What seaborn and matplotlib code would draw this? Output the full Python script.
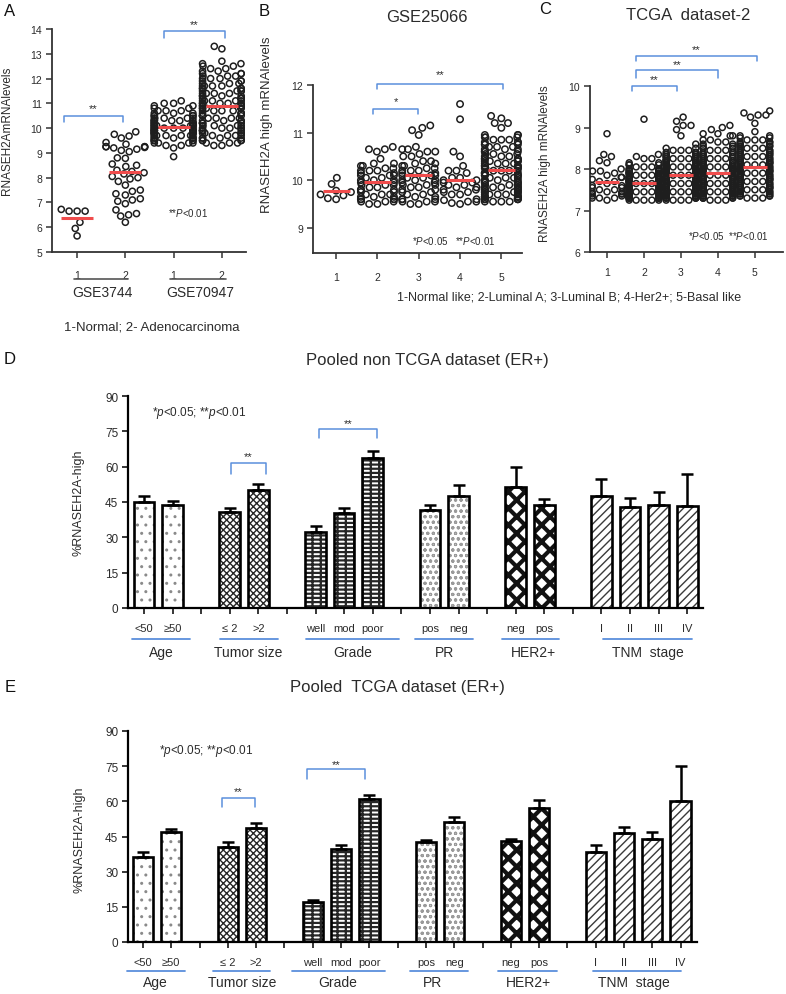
import numpy as np
import pandas as pd
import matplotlib
matplotlib.use("Agg")
import matplotlib.pyplot as plt
from matplotlib.lines import Line2D
from matplotlib.patches import Rectangle
import seaborn as sns

# ----------------------------- data -----------------------------
# Panel A (GSE3744 / GSE70947): 1-Normal, 2-Adenocarcinoma
A_order = ["GSE3744-1", "GSE3744-2", "GSE70947-1", "GSE70947-2"]
A_ticklabels = ["1", "2", "1", "2"]
A_gse3744_normal = [6.65, 6.65, 6.65, 6.72, 6.2, 5.95, 5.65]
A_gse3744_adeno = [9.85, 9.75, 9.68, 9.6, 9.42, 9.35, 9.25, 9.25, 9.25, 9.25, 9.22, 9.2,
                   9.15, 9.1, 9.05, 8.8, 8.78, 8.55, 8.5, 8.45, 8.3, 8.25, 8.2, 8.15,
                   8.05, 8.0, 7.95, 7.85, 7.7, 7.5, 7.45, 7.35, 7.3, 7.15, 7.1, 7.05,
                   6.95, 6.7, 6.55, 6.5, 6.45, 6.2]
A_gse70947_normal_levels = [8.85, 9.2, 9.3, 9.4, 9.5, 9.6, 9.7, 9.8, 9.9, 10.0, 10.1,
                            10.2, 10.3, 10.4, 10.5, 10.6, 10.7, 10.8, 10.9, 11.0, 11.1]
A_gse70947_normal_counts = [1, 1, 2, 4, 5, 6, 7, 8, 8, 8, 8, 7, 6, 5, 4, 3, 3, 2, 2, 2, 1]
A_gse70947_adeno_levels = [9.3, 9.4, 9.5, 9.6, 9.7, 9.8, 9.9, 10.0, 10.1, 10.2, 10.3, 10.4,
                           10.5, 10.6, 10.7, 10.8, 10.9, 11.0, 11.1, 11.2, 11.3, 11.4, 11.5,
                           11.6, 11.7, 11.8, 11.9, 12.0, 12.1, 12.2, 12.3, 12.4, 12.5, 12.6,
                           12.7, 13.2, 13.3]
A_gse70947_adeno_counts = [2, 3, 4, 4, 4, 4, 4, 5, 4, 4, 4, 4, 4, 4, 4, 5, 5, 5, 5, 4, 4, 4,
                           4, 4, 4, 3, 3, 3, 3, 3, 2, 2, 2, 2, 1, 1, 1]

# Panel B (GSE25066): subtypes 1..5
B_order = ["1", "2", "3", "4", "5"]
B_normal_like = [10.05, 9.92, 9.78, 9.75, 9.7, 9.68, 9.62, 9.6]
B_luminal_a_levels = [9.5, 9.55, 9.6, 9.65, 9.7, 9.75, 9.8, 9.85, 9.9, 9.95, 10.0, 10.05,
                      10.1, 10.15, 10.2, 10.25, 10.3, 10.35, 10.45, 10.6, 10.65, 10.7]
B_luminal_a_counts = [2, 3, 4, 3, 3, 2, 3, 2, 3, 2, 3, 2, 3, 2, 3, 2, 2, 2, 1, 1, 2, 1]
B_luminal_b_levels = [9.5, 9.55, 9.6, 9.65, 9.7, 9.75, 9.8, 9.85, 9.9, 9.95, 10.0, 10.05,
                      10.1, 10.15, 10.2, 10.25, 10.3, 10.35, 10.4, 10.5, 10.55, 10.6, 10.65,
                      10.7, 10.95, 11.05, 11.1, 11.15]
B_luminal_b_counts = [2, 3, 3, 2, 2, 2, 2, 2, 3, 2, 3, 2, 3, 2, 3, 2, 2, 2, 2, 2, 1, 2, 2,
                      1, 1, 1, 1, 1]
B_her2 = [11.6, 11.28, 10.6, 10.5, 10.3, 10.2, 10.2, 10.15, 10.05, 10.05, 10.0, 10.0, 9.95,
          9.95, 9.9, 9.9, 9.85, 9.85, 9.8, 9.8, 9.75, 9.75, 9.7, 9.7, 9.6, 9.55, 9.55, 9.5,
          9.52, 9.58]
B_basal_levels = [9.55, 9.6, 9.65, 9.7, 9.75, 9.8, 9.85, 9.9, 9.95, 10.0, 10.05, 10.1, 10.15,
                  10.2, 10.25, 10.3, 10.35, 10.4, 10.45, 10.5, 10.55, 10.6, 10.65, 10.7, 10.75,
                  10.8, 10.85, 10.9, 10.95, 11.1, 11.2, 11.3, 11.35]
B_basal_counts = [4, 6, 6, 5, 5, 5, 5, 4, 4, 4, 4, 4, 4, 4, 4, 4, 4, 4, 4, 3, 3, 3, 3, 3, 3,
                  3, 3, 3, 3, 1, 2, 1, 1]

# Panel C (TCGA dataset-2): subtypes 1..5
C_order = ["1", "2", "3", "4", "5"]
C_normal_like = [8.85, 8.35, 8.3, 8.2, 8.15, 8.0, 7.95, 7.95, 7.9, 7.85, 7.8, 7.8, 7.75, 7.7,
                 7.7, 7.65, 7.6, 7.6, 7.55, 7.55, 7.5, 7.5, 7.45, 7.45, 7.45, 7.4, 7.4, 7.4,
                 7.35, 7.35, 7.3, 7.3, 7.3, 7.25]
C_luminal_a_levels = [7.25, 7.3, 7.35, 7.4, 7.45, 7.5, 7.55, 7.6, 7.65, 7.7, 7.75, 7.8, 7.85,
                      7.9, 7.95, 8.0, 8.05, 8.1, 8.15, 8.25, 8.3, 8.35, 9.2]
C_luminal_a_counts = [5, 8, 8, 8, 8, 8, 8, 8, 7, 7, 6, 6, 5, 5, 4, 4, 3, 3, 2, 2, 1, 1, 1]
C_luminal_b_levels = [7.25, 7.3, 7.35, 7.4, 7.45, 7.5, 7.55, 7.6, 7.65, 7.7, 7.75, 7.8, 7.85,
                      7.9, 7.95, 8.0, 8.05, 8.1, 8.15, 8.2, 8.25, 8.3, 8.35, 8.4, 8.45, 8.5,
                      8.6, 8.8, 8.95, 9.05, 9.15, 9.25]
C_luminal_b_counts = [4, 6, 7, 7, 7, 7, 7, 7, 7, 7, 7, 7, 7, 7, 7, 6, 6, 6, 5, 5, 5, 4, 4, 3,
                      3, 2, 1, 1, 1, 2, 1, 1]
C_her2_levels = [7.25, 7.3, 7.35, 7.4, 7.45, 7.5, 7.55, 7.6, 7.65, 7.7, 7.75, 7.8, 7.85, 7.9,
                 7.95, 8.0, 8.05, 8.1, 8.15, 8.2, 8.25, 8.3, 8.35, 8.4, 8.45, 8.5, 8.55, 8.6,
                 8.65, 8.7, 8.8, 8.85, 8.95, 9.0, 9.05]
C_her2_counts = [3, 5, 6, 6, 6, 6, 6, 6, 6, 6, 6, 6, 5, 5, 5, 5, 5, 4, 4, 4, 4, 4, 3, 3, 3,
                 3, 2, 2, 2, 2, 2, 2, 1, 1, 1]
C_basal_levels = [7.3, 7.35, 7.4, 7.45, 7.5, 7.55, 7.6, 7.65, 7.7, 7.75, 7.8, 7.85, 7.9, 7.95,
                  8.0, 8.05, 8.1, 8.15, 8.2, 8.25, 8.3, 8.35, 8.4, 8.45, 8.5, 8.55, 8.6, 8.65,
                  8.7, 8.75, 8.8, 8.9, 9.1, 9.25, 9.3, 9.35, 9.4]
C_basal_counts = [3, 4, 4, 5, 5, 5, 5, 5, 5, 5, 5, 5, 5, 5, 5, 5, 5, 5, 5, 5, 5, 4, 4, 4, 4,
                  4, 3, 3, 3, 2, 2, 1, 1, 1, 2, 1, 1]

# Panels D / E: % RNASEH2A-high by clinical group
BAR_KEYS = ["<50", "≥50", "≤2", ">2", "well", "mod", "poor", "PR pos", "PR neg",
            "HER2 neg", "HER2 pos", "I", "II", "III", "IV"]
BAR_GROUPS = ["Age", "Age", "Tumor size", "Tumor size", "Grade", "Grade", "Grade", "PR", "PR",
              "HER2+", "HER2+", "TNM stage", "TNM stage", "TNM stage", "TNM stage"]
BAR_TICKLABELS = ["<50", "≥50", "≤ 2", ">2", "well", "mod", "poor", "pos", "neg", "neg",
                  "pos", "I", "II", "III", "IV"]
BAR_ORDER = ["<50", "≥50", "gap1", "≤2", ">2", "gap2", "well", "mod", "poor", "gap3",
             "PR pos", "PR neg", "gap4", "HER2 neg", "HER2 pos", "gap5", "I", "II", "III", "IV"]
D_pct = [45.1, 43.7, 40.6, 50.2, 32.1, 40.3, 63.7, 41.7, 47.4, 51.5, 43.9, 47.4, 43.0, 43.7, 43.4]
D_err = [2.3, 1.6, 1.7, 2.3, 2.6, 2.0, 2.8, 2.2, 4.9, 8.2, 2.4, 7.4, 3.6, 5.4, 13.5]
E_pct = [36.4, 46.8, 40.7, 48.6, 16.9, 39.7, 61.0, 42.5, 51.3, 43.1, 57.0, 38.3, 46.6, 43.8, 60.0]
E_err = [1.9, 1.4, 1.8, 2.0, 1.1, 1.8, 1.8, 1.0, 2.1, 0.8, 3.7, 3.1, 2.3, 3.0, 15.2]

# ----------------------------- style -----------------------------
sns.set_theme(style="ticks")
plt.rcParams["font.family"] = ["Liberation Sans", "DejaVu Sans"]
plt.rcParams["mathtext.fontset"] = "custom"
plt.rcParams["mathtext.it"] = "Liberation Sans:italic"
plt.rcParams["mathtext.rm"] = "Liberation Sans"

W, H = 786, 995
fig = plt.figure(figsize=(W / 100, H / 100), dpi=100)
TXT = "#2b2b2b"
BLUE = "#5b8fdc"
RED = "#f04c4c"
DOT = "#1e1e1e"


def rect(l, r, t, b):
    return [l / W, 1 - b / H, (r - l) / W, (b - t) / H]


def px_text(x, y, s, **kw):
    kw.setdefault("color", TXT)
    kw.setdefault("ha", "center")
    kw.setdefault("va", "center")
    fig.text(x / W, 1 - y / H, s, **kw)


def px_line(x1, x2, y, color=BLUE, lw=1.3):
    fig.add_artist(Line2D([x1 / W, x2 / W], [1 - y / H, 1 - y / H],
                          transform=fig.transFigure, color=color, lw=lw))


def bracket(ax, x1, x2, y, ylow, label, ty, fs=8):
    ax.plot([x1, x1, x2, x2], [ylow, y, y, ylow], color=BLUE, lw=1.1, clip_on=False)
    ax.text((x1 + x2) / 2, ty, label, ha="center", va="center", fontsize=fs,
            color=TXT, clip_on=False)


def expand(levels, counts):
    return np.repeat(np.asarray(levels, float), counts)


def style_axes(ax, lw=1.3, color="#333333", labelsize=7.5, pad=3):
    sns.despine(ax=ax)
    for s in ("left", "bottom"):
        ax.spines[s].set_linewidth(lw)
        ax.spines[s].set_color(color)
    ax.tick_params(direction="out", length=4, width=1.1, color=color,
                   labelsize=labelsize, labelcolor=TXT, pad=pad)
    ax.grid(False)
    ax.set_facecolor("none")


def swarm_panel(ax, order, groups, size):
    frames = [pd.DataFrame({"group": g, "value": np.asarray(v, float)})
              for g, v in zip(order, groups)]
    df = pd.concat(frames, ignore_index=True)
    sns.swarmplot(data=df, x="group", y="value", order=order, ax=ax, size=size,
                  color="white", edgecolor=DOT, linewidth=1.1, warn_thresh=1.0)
    for coll in ax.collections:
        coll.set_facecolor("none")
        coll.set_edgecolor(DOT)
        coll.set_linewidth(1.1)
    means = df.groupby("group")["value"].mean().reindex(order).to_numpy()
    pos = np.arange(len(order))
    ax.hlines(means, pos - 0.33, pos + 0.33, color=RED, lw=2.2, zorder=6)
    ax.set_xlabel("")


HATCH = {
    "Age": ("white", "#8a8a8a", "..", 1.0),
    "Tumor size": ("white", "#262626", "xxxxx", 1.0),
    "Grade": ("white", "#262626", "----||", 1.6),
    "PR": ("white", "#9a9a9a", "ooo", 0.8),
    "HER2+": ("white", "#111111", "xx", 3.0),
    "TNM stage": ("white", "#3a3a3a", "////", 1.0),
}


def bar_panel(ax, pct, err):
    df = pd.DataFrame({"cat": BAR_KEYS, "pct": pct, "group": BAR_GROUPS})
    sns.barplot(data=df, x="cat", y="pct", order=BAR_ORDER, ax=ax, color="white",
                edgecolor="black", linewidth=1.9, width=0.72, errorbar=None, saturation=1)
    group_of = dict(zip(BAR_KEYS, BAR_GROUPS))
    for p in list(ax.patches):
        if not np.isfinite(p.get_height()) or p.get_height() == 0:
            continue
        key = BAR_ORDER[int(round(p.get_x() + p.get_width() / 2))]
        face, hc, hatch, hlw = HATCH[group_of[key]]
        overlay = Rectangle((p.get_x(), p.get_y()), p.get_width(), p.get_height(),
                            facecolor=face, edgecolor=hc, lw=0, hatch=hatch, zorder=1.5)
        if hasattr(overlay, "set_hatch_linewidth"):
            overlay.set_hatch_linewidth(hlw)
        ax.add_patch(overlay)
        p.set_facecolor("none")
        p.set_zorder(3)
    xpos = [BAR_ORDER.index(k) for k in BAR_KEYS]
    ax.errorbar(xpos, pct, yerr=[np.zeros(len(err)), err], fmt="none", ecolor="black",
                elinewidth=1.8, capsize=4, capthick=1.8, zorder=2.5)
    ax.set_ylim(0, 90)
    ax.set_yticks([0, 15, 30, 45, 60, 75, 90])
    ax.set_xticks(np.arange(len(BAR_ORDER)))
    labels = []
    for k in BAR_ORDER:
        labels.append(BAR_TICKLABELS[BAR_KEYS.index(k)] if k in BAR_KEYS else "")
    ax.set_xticklabels(labels)
    ax.set_xlabel("")
    ax.set_ylabel("%RNASEH2A-high", fontsize=9, color=TXT)
    style_axes(ax, lw=1.6, color="black", labelsize=8, pad=3)
    ax.tick_params(axis="x", pad=7, labelsize=8)
    ax.tick_params(axis="y", labelsize=8.5)


# ----------------------------- panel A -----------------------------
axA = fig.add_axes(rect(52, 246, 30, 253))
swarm_panel(axA, A_order,
            [A_gse3744_normal, A_gse3744_adeno,
             expand(A_gse70947_normal_levels, A_gse70947_normal_counts),
             expand(A_gse70947_adeno_levels, A_gse70947_adeno_counts)], size=4.4)
axA.set_ylim(5, 14)
axA.set_yticks(range(5, 15))
axA.set_xlim(-0.52, 3.5)
axA.set_xticks(range(4))
axA.set_xticklabels(A_ticklabels)
style_axes(axA)
axA.tick_params(axis="x", pad=9)
axA.set_ylabel("RNASEH2AmRNAlevels", fontsize=8.5, color=TXT)
axA.yaxis.set_label_coords(-0.2, 0.55)
bracket(axA, -0.27, 0.95, 10.5, 10.24, "**", 10.8)
bracket(axA, 1.81, 3.06, 13.9, 13.64, "**", 14.18)
axA.text(2.3, 6.6, r"**$\mathit{P}$<0.01", fontsize=7, color=TXT, ha="center", va="center")
px_line(74, 128, 280, color="#555555", lw=1.2)
px_line(170, 226, 280, color="#555555", lw=1.2)
px_text(102, 293, "GSE3744", fontsize=10)
px_text(200, 293, "GSE70947", fontsize=10)
px_text(152, 327, "1-Normal; 2- Adenocarcinoma", fontsize=9.5)

# ----------------------------- panel B -----------------------------
axB = fig.add_axes(rect(313, 522, 86, 254))
swarm_panel(axB, B_order,
            [B_normal_like, expand(B_luminal_a_levels, B_luminal_a_counts),
             expand(B_luminal_b_levels, B_luminal_b_counts), B_her2,
             expand(B_basal_levels, B_basal_counts)], size=4.6)
axB.set_ylim(8.47, 12)
axB.set_yticks([9, 10, 11, 12])
axB.set_xlim(-0.56, 4.5)
style_axes(axB)
axB.tick_params(axis="x", pad=10)
axB.set_ylabel("RNASEH2A high mRNAlevels", fontsize=9.5, color=TXT)
axB.yaxis.set_label_coords(-0.19, 0.77)
bracket(axB, 0.9, 1.98, 11.5, 11.39, "*", 11.66)
bracket(axB, 0.98, 4.05, 12.02, 11.92, "**", 12.23)
axB.text(2.85, 8.75, r"*$\mathit{P}$<0.05   **$\mathit{P}$<0.01", fontsize=7,
         color=TXT, ha="center", va="center")

# ----------------------------- panel C -----------------------------
axC = fig.add_axes(rect(590, 783, 87, 253))
swarm_panel(axC, C_order,
            [C_normal_like, expand(C_luminal_a_levels, C_luminal_a_counts),
             expand(C_luminal_b_levels, C_luminal_b_counts),
             expand(C_her2_levels, C_her2_counts),
             expand(C_basal_levels, C_basal_counts)], size=4.3)
axC.set_ylim(6, 10)
axC.set_yticks([6, 7, 8, 9, 10])
axC.set_xlim(-0.46, 4.76)
style_axes(axC)
axC.tick_params(axis="x", pad=7)
axC.set_ylabel("RNASEH2A high mRNAlevels", fontsize=8.5, color=TXT)
axC.yaxis.set_label_coords(-0.2, 0.54)
bracket(axC, 0.68, 1.89, 10.0, 9.88, "**", 10.17)
bracket(axC, 0.78, 3.0, 10.39, 10.19, "**", 10.53)
bracket(axC, 0.78, 4.05, 10.72, 10.6, "**", 10.89)
axC.text(3.27, 6.4, r"*$\mathit{P}$<0.05  **$\mathit{P}$<0.01", fontsize=7,
         color=TXT, ha="center", va="center")

px_text(569, 297, "1-Normal like; 2-Luminal A; 3-Luminal B; 4-Her2+; 5-Basal like", fontsize=9)
px_text(427, 18, "GSE25066", fontsize=12)
px_text(688, 15, "TCGA  dataset-2", fontsize=12)

# ----------------------------- panel D -----------------------------
axD = fig.add_axes(rect(128, 703, 397, 609))
bar_panel(axD, D_pct, D_err)
axD.set_xlim(-0.56, 19.55)
axD.yaxis.set_label_coords(-0.075, 0.5)
bracket(axD, 3.04, 4.27, 61.6, 56.9, "**", 64.5)
bracket(axD, 6.12, 8.15, 76.0, 72.2, "**", 78.5)
px_text(199, 413, r"*$\mathit{p}$<0.05; **$\mathit{p}$<0.01", fontsize=8.5)
px_text(427, 360, "Pooled non TCGA dataset (ER+)", fontsize=12)
for (x1, x2, name, xc) in [(132, 190, "Age", 161), (220, 278, "Tumor size", 248),
                           (306, 399, "Grade", 353), (415, 473, "PR", 444),
                           (502, 559, "HER2+", 533), (603, 692, "TNM  stage", 648)]:
    px_line(x1, x2, 640)
    px_text(xc, 653, name, fontsize=10)

# ----------------------------- panel E -----------------------------
axE = fig.add_axes(rect(128, 697, 732, 943))
bar_panel(axE, E_pct, E_err)
axE.set_xlim(-0.53, 19.58)
axE.yaxis.set_label_coords(-0.075, 0.49)
bracket(axE, 2.79, 3.96, 61.4, 57.6, "**", 64.4)
bracket(axE, 5.8, 7.84, 73.8, 69.5, "**", 75.9)
px_text(206, 751, r"*$\mathit{p}$<0.05; **$\mathit{p}$<0.01", fontsize=8.5)
px_text(397, 688, "Pooled  TCGA dataset (ER+)", fontsize=12)
for (x1, x2, name, xc) in [(127, 185, "Age", 155), (213, 270, "Tumor size", 242),
                           (292, 385, "Grade", 338), (410, 468, "PR", 432),
                           (498, 557, "HER2+", 528), (593, 681, "TNM  stage", 634)]:
    px_line(x1, x2, 972)
    px_text(xc, 983, name, fontsize=10)

# panel letters
for (x, y, s) in [(10, 12, "A"), (264, 12, "B"), (545, 10, "C"), (10, 360, "D"), (10, 688, "E")]:
    px_text(x, y, s, fontsize=12, color="#111111")

fig.savefig("out.png", dpi=100, facecolor="white")
